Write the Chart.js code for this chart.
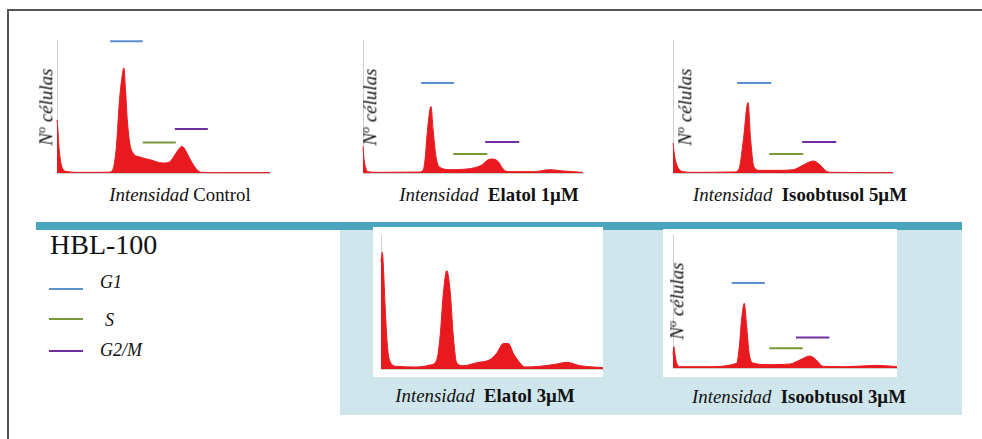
<!DOCTYPE html>
<html>
<head>
<meta charset="utf-8">
<script src="https://cdn.jsdelivr.net/npm/chart.js@4.4.1/dist/chart.umd.min.js"></script>
<style>
  body { margin: 0; width: 982px; height: 439px; background: #fff; position: relative; overflow: hidden;
         font-family: "Liberation Serif", "DejaVu Serif", serif; color: #111; }
  .abs { position: absolute; }
  .frameTop { left: 7px; top: 9px; width: 975px; height: 2px; background: #555; }
  .frameLeft { left: 7px; top: 9px; width: 2px; height: 430px; background: #555; }
  .bar { left: 36px; top: 222px; width: 926px; height: 8px; background: #4ba4bd; }
  .shade { left: 340px; top: 230px; width: 622px; height: 185px; background: #d0e6ed; }
  .box { background: #fff; }
  .lab { font-size: 18.8px; white-space: nowrap; transform: translateX(-50%); }
  .lab i { font-style: italic; }
  .lab b { font-weight: bold; }
  .ylab { font-size: 19px; font-style: italic; white-space: nowrap; transform: translate(-50%, -50%) rotate(-90deg); }
  .ylab sup { font-size: 12px; }
  .title { left: 50px; top: 229px; font-size: 28px; }
  .legLine { width: 34px; height: 2px; }
  .legText { font-size: 18px; font-style: italic; }
  canvas { position: absolute; }
</style>
</head>
<body>
<div class="abs frameTop"></div>
<div class="abs frameLeft"></div>
<div class="abs shade"></div>
<div class="abs bar"></div>
<div class="abs box" style="left:373px;top:227px;width:230px;height:150px"></div>
<div class="abs box" style="left:663px;top:229px;width:234px;height:148px"></div>

<div class="abs title">HBL-100</div>
<div class="abs legLine" style="left:49px;top:288px;background:#5b8fcf"></div>
<div class="abs legText" style="left:100px;top:272px">G1</div>
<div class="abs legLine" style="left:49px;top:318px;background:#77993a"></div>
<div class="abs legText" style="left:105px;top:310px">S</div>
<div class="abs legLine" style="left:49px;top:350px;background:#7030a0"></div>
<div class="abs legText" style="left:100px;top:340px">G2/M</div>

<div id="charts"></div>

<script>
const controlChannel = [0, 4, 8, 14, 22, 32, 50, 100, 180, 240, 258, 268, 280, 292, 305, 314, 322, 330, 342, 357, 389, 436, 497, 530, 553, 572, 586, 600, 610, 633, 657, 680, 750, 1000];
const controlCount   = [40, 33, 22, 12, 5, 2, 1, 0.5, 0.5, 0.6, 1.5, 6, 22, 52, 72, 79, 62, 40, 22, 15, 12, 10, 7.5, 8.5, 13.5, 18, 20, 18, 15, 8, 2.5, 0.5, 0.3, 0.3];

const elatol1Channel = [0, 5, 12, 23, 60, 250, 273, 282, 293, 309, 319, 332, 347, 397, 472, 540, 569, 592, 615, 637, 660, 774, 851, 910, 1000];
const elatol1Count   = [20, 10, 4, 1, 0.5, 0.7, 2, 10, 32, 50, 32, 12, 4.5, 2.5, 3, 6, 10, 10.5, 8.5, 3, 1, 1, 2.5, 1.5, 0.5];

const iso5Channel = [0, 8, 20, 45, 100, 280, 300, 320, 341, 353, 368, 396, 470, 546, 592, 623, 637, 669, 700, 728, 1000];
const iso5Count   = [22.5, 12, 5, 1, 0.5, 0.8, 3, 25, 53, 25, 4.5, 2, 2, 2.5, 6, 8.5, 9, 6, 1, 0.5, 0.3];

const elatol3Channel = [0, 6, 12, 18, 29, 41, 71, 161, 221, 251, 266, 281, 296, 311, 326, 341, 371, 431, 491, 521, 551, 574, 596, 626, 649, 716, 791, 836, 896, 956, 1000];
const elatol3Count   = [80, 87, 72, 49, 17, 5.5, 2, 1.5, 3, 6.7, 24, 56.7, 73.4, 59, 24, 4.5, 2.5, 4.7, 7, 11.7, 19, 19, 11.7, 4.5, 1.5, 2, 3.7, 5, 2.5, 1.5, 1];

const iso3Channel = [0, 4, 10, 16, 31, 150, 284, 296, 306, 318, 329, 340, 358, 433, 522, 566, 611, 640, 669, 774, 908, 1000];
const iso3Count   = [10, 16, 9, 4, 1, 1, 3.5, 16, 36, 48.6, 31, 11, 3.7, 2.5, 3, 6, 9, 6, 1.3, 1, 2, 1];

// marcas de fase: [canal inicio, canal fin, nivel]
const controlPhases = { G1: [249, 403, 99], S: [403, 558, 23], G2M: [553, 708, 33] };
const elatol1Phases = { G1: [264, 414, 67.7], S: [410, 565, 14.3], G2M: [555, 710, 23.3] };
const iso5Phases    = { G1: [291, 446, 67.7], S: [437, 592, 14.3], G2M: [587, 742, 23.3] };
const iso3Phases    = { G1: [262, 410, 64], S: [430, 579, 14.8], G2M: [549, 698, 23] };

const compound = ['Control', 'Elatol 1µM', 'Isoobtusol 5µM', 'Elatol 3µM', 'Isoobtusol 3µM'];

const phaseColors = { G1: '#5b8fcf', S: '#77993a', G2M: '#7030a0' };
const red = '#e8191f';
const pad = 4;

// area de trazado de cada panel en la pagina
const panels = [
  { ch: controlChannel, n: controlCount, phases: controlPhases, box: [57, 40, 213, 133], lab: [180, 184], ylab: [46, 107], bold: false },
  { ch: elatol1Channel, n: elatol1Count, phases: elatol1Phases, box: [363, 40, 220, 133], lab: [489, 184], ylab: [370, 107], bold: true },
  { ch: iso5Channel, n: iso5Count, phases: iso5Phases, box: [673, 40, 220, 133], lab: [800, 184], ylab: [685, 107], bold: true },
  { ch: elatol3Channel, n: elatol3Count, phases: null, box: [381, 235, 222, 134], lab: [485, 385], ylab: null, bold: true },
  { ch: iso3Channel, n: iso3Count, phases: iso3Phases, box: [673, 235, 224, 133], lab: [799, 386], ylab: [677, 301], bold: true }
];

const holder = document.getElementById('charts');

panels.forEach(function(p, i) {
  const [left, top, w, h] = p.box;
  const canvas = document.createElement('canvas');
  canvas.width = w + pad * 2;
  canvas.height = h + pad * 2;
  canvas.style.left = (left - pad) + 'px';
  canvas.style.top = (top - pad) + 'px';
  holder.appendChild(canvas);

  const datasets = [{
    data: p.ch.map((c, k) => ({ x: c, y: p.n[k] })),
    borderColor: red,
    backgroundColor: red,
    borderWidth: 1,
    fill: 'origin',
    pointRadius: 0,
    cubicInterpolationMode: 'monotone',
    clip: false
  }];
  if (p.phases) {
    Object.keys(p.phases).forEach(function(k) {
      const [a, b, lvl] = p.phases[k];
      datasets.push({
        data: [{ x: a, y: lvl }, { x: b, y: lvl }],
        borderColor: phaseColors[k],
        borderWidth: 2,
        fill: false,
        pointRadius: 0,
        clip: false
      });
    });
  }

  new Chart(canvas.getContext('2d'), {
    type: 'line',
    data: { datasets: datasets },
    options: {
      responsive: false,
      animation: false,
      layout: { padding: pad },
      plugins: { legend: { display: false }, tooltip: { enabled: false } },
      scales: {
        x: { type: 'linear', min: 0, max: 1000, ticks: { display: false }, grid: { display: false },
             border: { color: '#cfcfcf', width: 1 }, afterFit: s => { s.height = 0; } },
        y: { min: 0, max: 100, ticks: { display: false }, grid: { display: false },
             border: { color: '#cfcfcf', width: 1 }, afterFit: s => { s.width = 0; } }
      }
    }
  });

  // textos del panel
  const lab = document.createElement('div');
  lab.className = 'abs lab';
  lab.style.left = p.lab[0] + 'px';
  lab.style.top = p.lab[1] + 'px';
  lab.innerHTML = p.bold ? '<i>Intensidad</i>&nbsp; <b>' + compound[i] + '</b>' : '<i>Intensidad</i> ' + compound[i];
  holder.appendChild(lab);

  if (p.ylab) {
    const yl = document.createElement('div');
    yl.className = 'abs ylab';
    yl.style.left = p.ylab[0] + 'px';
    yl.style.top = p.ylab[1] + 'px';
    yl.innerHTML = 'N<sup>o</sup> células';
    holder.appendChild(yl);
  }
});
</script>
</body>
</html>
